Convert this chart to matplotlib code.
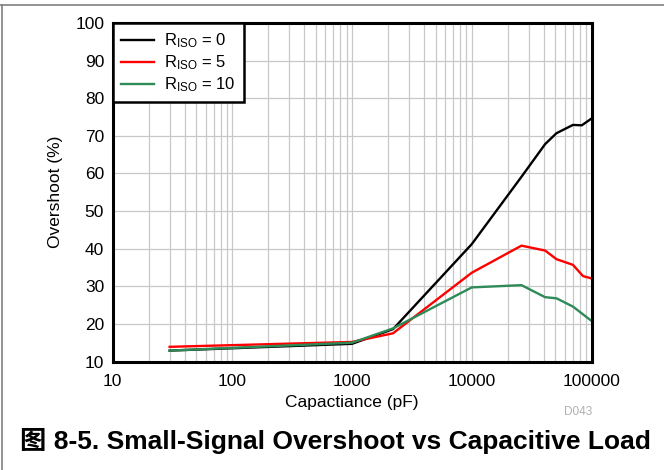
import numpy as np
import matplotlib
matplotlib.use("Agg")
import matplotlib.pyplot as plt
from matplotlib.lines import Line2D

plt.rcParams['font.family'] = ['Liberation Sans', 'Noto Sans CJK SC', 'DejaVu Sans']
plt.rcParams['mathtext.fontset'] = 'custom'
plt.rcParams['mathtext.rm'] = 'Liberation Sans'
plt.rcParams['mathtext.it'] = 'Liberation Sans'

# data
cap_0 = [30, 1000, 2200, 10000, 26000, 41000, 51000, 70000, 83000, 100000]
over_0 = [12.9, 14.7, 18.6, 41.2, 59.1, 67.8, 70.7, 72.9, 72.8, 74.6]

cap_5 = [30, 1000, 2200, 10000, 26000, 41000, 51000, 70000, 85000, 100000]
over_5 = [13.9, 15.2, 17.5, 33.6, 40.8, 39.5, 37.2, 35.7, 32.7, 32.1]

cap_10 = [30, 1000, 2200, 10000, 26000, 41000, 51000, 70000, 100000]
over_10 = [12.9, 15.0, 18.8, 29.7, 30.3, 27.1, 26.8, 24.6, 20.8]

labels = [r'R$_{\mathrm{ISO}}$ = 0', r'R$_{\mathrm{ISO}}$ = 5', r'R$_{\mathrm{ISO}}$ = 10']
colors = ['black', '#ff0000', '#2e8b57']

fig = plt.figure(figsize=(6.64, 4.70), dpi=100)
ax = fig.add_axes([112.5 / 664, 1 - 361.5 / 470, 479 / 664, 338.5 / 470])

for c, o, lab, col in zip([cap_0, cap_5, cap_10], [over_0, over_5, over_10], labels, colors):
    ax.plot(c, o, color=col, lw=1.7, label=lab)

ax.set_xscale('log')
ax.set_xlim(10, 100000)
ax.set_ylim(10, 100)
ax.set_yticks(np.arange(10, 101, 10))
ax.set_xticks([10, 100, 1000, 10000, 100000])
ax.set_xticklabels(['10', '100', '1000', '10000', '100000'])
ax.grid(True, which='major', color='#c8c8c8', lw=0.9)
ax.grid(True, which='minor', axis='x', color='#c8c8c8', lw=0.9)
ax.set_axisbelow(True)
ax.tick_params(which='both', length=0, labelsize=12.5)
ax.tick_params(axis='x', pad=9)
ax.tick_params(axis='y', pad=6)
for s in ax.spines.values():
    s.set_linewidth(2.2)

ax.set_xlabel('Capactiance (pF)', fontsize=12.5)
ax.set_ylabel('Overshoot (%)', fontsize=12.5)
ax.xaxis.set_label_coords(0.5, -0.10)
ax.yaxis.set_label_coords(-0.103, 0.5)

leg = ax.legend(loc='upper left', fontsize=12, frameon=True, fancybox=False,
                edgecolor='black', framealpha=1, borderaxespad=0, handlelength=2.0,
                borderpad=0.5, labelspacing=0.2, handletextpad=0.6)
leg.get_frame().set_linewidth(1.8)

fig.text(592 / 664, 1 - 412 / 470, 'D043', fontsize=8.5, color='#b0b0b0', ha='right', va='center')
fig.text(20 / 664, 1 - 441 / 470, '图 8-5. Small-Signal Overshoot vs Capacitive Load',
         fontsize=19, fontweight='bold', ha='left', va='center')

# outer border lines
fig.add_artist(Line2D([0, 1], [1 - 5 / 470, 1 - 5 / 470], color='#808080', lw=1.2))
fig.add_artist(Line2D([1.5 / 664, 1.5 / 664], [0, 1 - 5 / 470], color='#808080', lw=1.2))

fig.savefig('out.png', dpi=100)
